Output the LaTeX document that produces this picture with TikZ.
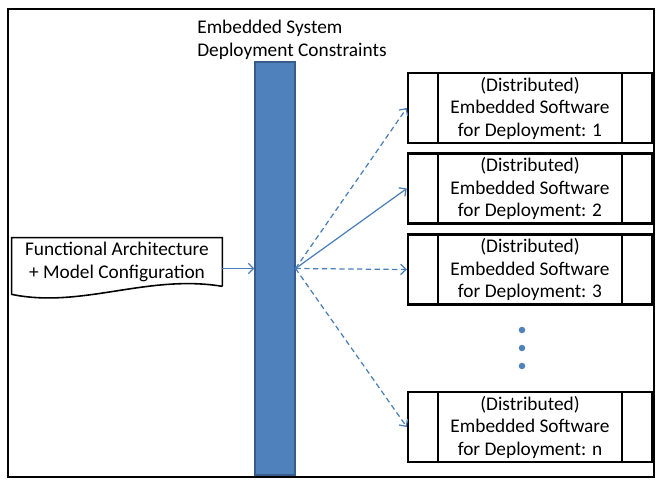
\documentclass[tikz,border=0pt]{standalone}
\usepackage{fontspec}
\setmainfont{Carlito}
\usetikzlibrary{arrows.meta}
\definecolor{barblue}{HTML}{4F81BD}
\definecolor{bardark}{HTML}{385D8A}
\definecolor{arrowblue}{HTML}{4A7EBB}
\begin{document}
\begin{tikzpicture}[font=\fontsize{11}{12.8}\selectfont,
    swbox/.style={draw, line width=1.4pt, minimum width=4.88cm, minimum height=1.4cm, align=center, inner sep=0pt,
      path picture={
        \draw[line width=1pt] ([xshift=0.6cm]path picture bounding box.north west) -- ([xshift=0.6cm]path picture bounding box.south west);
        \draw[line width=1pt] ([xshift=-0.6cm]path picture bounding box.north east) -- ([xshift=-0.6cm]path picture bounding box.south east);}},
    link/.style={arrowblue, line width=0.7pt, -{Straight Barb[length=3pt,width=6pt]}},
    dlink/.style={link, dash pattern=on 3pt off 2pt}]
    \useasboundingbox (0,0) rectangle (13.22,-9.66);
    \draw[line width=1.1pt] (0.16,-0.18) rectangle (13.08,-9.54);
    \node[anchor=west, align=left, inner sep=0pt] (title) at (3.94,-0.8) {Embedded System\\Deployment Constraints};
    \node[draw=bardark, fill=barblue, line width=0.6pt, minimum width=0.8cm, minimum height=8.26cm] (bar) at (5.5,-5.37) {};
    % input document
    \node[minimum width=4.2cm, minimum height=0.96cm, inner sep=0pt, align=center] (func) at (2.34,-5.24) {Functional Architecture\\+ Model Configuration};
    \draw[line width=0.9pt] (func.south east) -- (func.north east) -- (func.north west) -- ([yshift=-0.16cm]func.south west)
        .. controls ([xshift=1.4cm,yshift=-0.45cm]func.south west) and ([xshift=-1.5cm,yshift=0.25cm]func.south east) .. (func.south east);
    \draw[link] (func.east |- bar.west) -- (bar.west);
    % deployments
    \foreach \n/\y in {1/-2.16, 2/-3.77, 3/-5.39, n/-8.54}
        \node[swbox] (b\n) at (10.6,\y) {(Distributed)\\Embedded Software\\for Deployment: \n};
    \draw[dlink] (bar.east) -- (b1.west);
    \draw[link] (bar.east) -- (b2.west);
    \draw[dlink] (bar.east) -- (b3.west);
    \draw[dlink] (bar.east) -- (bn.west);
    \foreach \y in {-6.6,-6.96,-7.32}
        \fill[barblue] (10.44,\y) circle (0.065);
\end{tikzpicture}
\end{document}
